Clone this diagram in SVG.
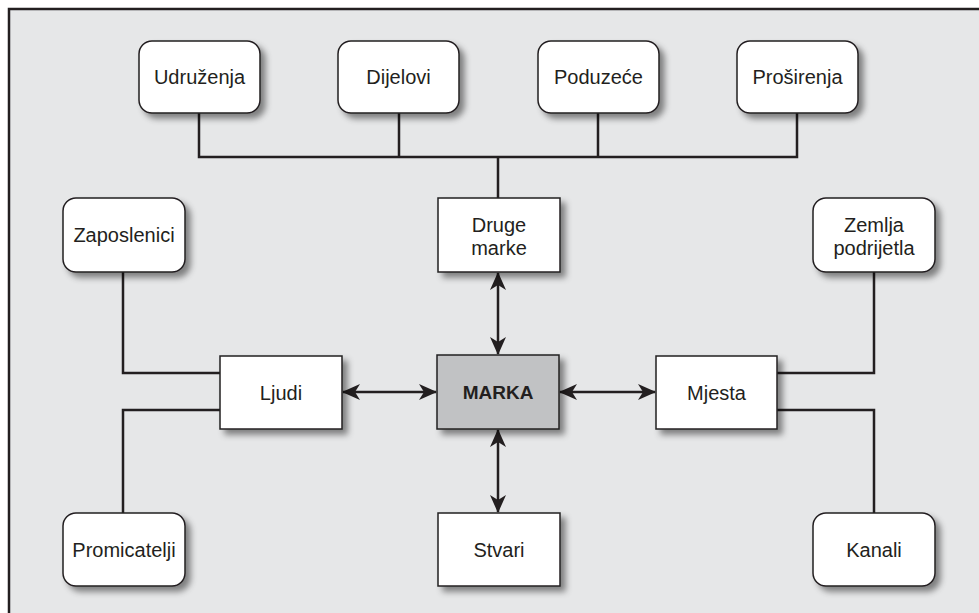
<svg xmlns="http://www.w3.org/2000/svg" width="979" height="613" viewBox="0 0 979 613">
<style>
.box{fill:#ffffff;stroke:#231f20;stroke-width:1.5}
.core{fill:#c1c2c4;stroke:#231f20;stroke-width:1.5}
.t{font-family:"Liberation Sans",Arial,sans-serif;font-size:20px;fill:#231f20;text-anchor:middle}
.b{font-weight:bold;font-size:19px}
.ln{fill:none;stroke:#231f20;stroke-width:2.5}
</style>
<defs>
<filter id="sh" x="-20%" y="-20%" width="150%" height="150%">
<feDropShadow dx="5" dy="5" stdDeviation="3" flood-color="#000" flood-opacity="0.45"/>
</filter>
<marker id="ah" viewBox="0 0 18 16" markerWidth="18" markerHeight="16" refX="17" refY="8" orient="auto-start-reverse" markerUnits="userSpaceOnUse">
<path d="M0,0 L18,8 L0,16 L5,8 Z" fill="#231f20"/>
</marker>
</defs>
<rect x="0" y="0" width="979" height="613" fill="#ffffff"/>
<rect x="9" y="9" width="980" height="620" fill="#e6e7e8" stroke="#231f20" stroke-width="2.5"/>

<g id="connectors">
<path class="ln" d="M199,113 V157 H797 V113 M399,113 V157 M598,113 V157 M498,157 V198"/>
<path class="ln" d="M123,272 V373 H220 M123,513 V410 H220"/>
<path class="ln" d="M874,272 V373 H777 M874,513 V410 H777"/>
<line class="ln" x1="498" y1="273" x2="498" y2="354" marker-start="url(#ah)" marker-end="url(#ah)"/>
<line class="ln" x1="498" y1="430" x2="498" y2="512" marker-start="url(#ah)" marker-end="url(#ah)"/>
<line class="ln" x1="343" y1="392" x2="436" y2="392" marker-start="url(#ah)" marker-end="url(#ah)"/>
<line class="ln" x1="560" y1="392" x2="655" y2="392" marker-start="url(#ah)" marker-end="url(#ah)"/>
</g>

<g id="udruzenja"><rect class="box" x="139" y="41" width="121" height="72" rx="13" filter="url(#sh)"/><text class="t" x="199.5" y="84">Udruženja</text></g>
<g id="dijelovi"><rect class="box" x="338" y="41" width="121" height="72" rx="13" filter="url(#sh)"/><text class="t" x="398.5" y="84">Dijelovi</text></g>
<g id="poduzece"><rect class="box" x="538" y="41" width="121" height="72" rx="13" filter="url(#sh)"/><text class="t" x="598.5" y="84">Poduzeće</text></g>
<g id="prosirenja"><rect class="box" x="737" y="41" width="121" height="72" rx="13" filter="url(#sh)"/><text class="t" x="797.5" y="84">Proširenja</text></g>

<g id="druge-marke"><rect class="box" x="438" y="198" width="122" height="74" filter="url(#sh)"/><text class="t" x="499" y="232">Druge</text><text class="t" x="499" y="255">marke</text></g>
<g id="zaposlenici"><rect class="box" x="63" y="198" width="122" height="74" rx="13" filter="url(#sh)"/><text class="t" x="124" y="242">Zaposlenici</text></g>
<g id="zemlja"><rect class="box" x="813" y="198" width="122" height="74" rx="13" filter="url(#sh)"/><text class="t" x="874" y="232">Zemlja</text><text class="t" x="874" y="255">podrijetla</text></g>

<g id="ljudi"><rect class="box" x="220" y="356" width="122" height="73" filter="url(#sh)"/><text class="t" x="281" y="400">Ljudi</text></g>
<g id="marka"><rect class="core" x="437" y="355" width="122" height="74" filter="url(#sh)"/><text class="t b" x="498" y="399">MARKA</text></g>
<g id="mjesta"><rect class="box" x="656" y="356" width="121" height="73" filter="url(#sh)"/><text class="t" x="716.5" y="400">Mjesta</text></g>

<g id="promicatelji"><rect class="box" x="63" y="513" width="122" height="73" rx="13" filter="url(#sh)"/><text class="t" x="124" y="557">Promicatelji</text></g>
<g id="stvari"><rect class="box" x="438" y="513" width="122" height="73" filter="url(#sh)"/><text class="t" x="499" y="557">Stvari</text></g>
<g id="kanali"><rect class="box" x="813" y="513" width="122" height="73" rx="13" filter="url(#sh)"/><text class="t" x="874" y="557">Kanali</text></g>
</svg>
